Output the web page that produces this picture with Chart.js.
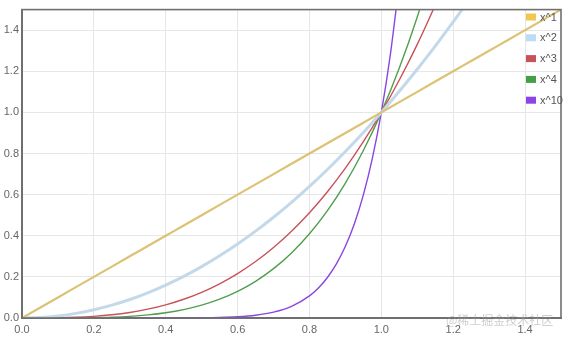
<!DOCTYPE html>
<html>
<head>
<meta charset="utf-8">
<script src="https://cdn.jsdelivr.net/npm/chart.js@4/dist/chart.umd.min.js"></script>
<style>
  html, body { margin: 0; padding: 0; background: #fff; }
  #wrap { position: relative; width: 564px; height: 340px; }
  #wm { position: absolute; left: 446px; top: 311px; font: 12px "Noto Sans CJK SC", sans-serif; color: rgba(160,160,160,0.5); white-space: nowrap; pointer-events: none; }
</style>
</head>
<body>
<div id="wrap">
  <canvas id="c" width="564" height="340"></canvas>
  <div id="wm">@稀土掘金技术社区</div>
</div>
<script>
// Shared x samples (0 .. 1.5)
const xs = [0, 0.05, 0.1, 0.15, 0.2, 0.25, 0.3, 0.35, 0.4, 0.45, 0.5, 0.55, 0.6, 0.65, 0.7, 0.75, 0.8, 0.85, 0.9, 0.95, 1.0, 1.05, 1.1, 1.15, 1.2, 1.25, 1.3, 1.35, 1.4, 1.45, 1.5];
const y1 = [0, 0.05, 0.1, 0.15, 0.2, 0.25, 0.3, 0.35, 0.4, 0.45, 0.5, 0.55, 0.6, 0.65, 0.7, 0.75, 0.8, 0.85, 0.9, 0.95, 1.0, 1.05, 1.1, 1.15, 1.2, 1.25, 1.3, 1.35, 1.4, 1.45, 1.5];
const y2 = [0, 0.0025, 0.01, 0.0225, 0.04, 0.0625, 0.09, 0.1225, 0.16, 0.2025, 0.25, 0.3025, 0.36, 0.4225, 0.49, 0.5625, 0.64, 0.7225, 0.81, 0.9025, 1.0, 1.1025, 1.21, 1.3225, 1.44, 1.5625];
const y3 = [0, 0.000125, 0.001, 0.003375, 0.008, 0.015625, 0.027, 0.042875, 0.064, 0.091125, 0.125, 0.166375, 0.216, 0.274625, 0.343, 0.421875, 0.512, 0.614125, 0.729, 0.857375, 1.0, 1.157625, 1.331, 1.520875];
const y4 = [0, 0.000006, 0.0001, 0.000506, 0.0016, 0.003906, 0.0081, 0.015006, 0.0256, 0.041006, 0.0625, 0.091506, 0.1296, 0.178506, 0.2401, 0.316406, 0.4096, 0.522006, 0.6561, 0.814506, 1.0, 1.215506, 1.4641, 1.749006];
// finer samples for the steep x^10 curve
const xs10 = [0, 0.1, 0.2, 0.3, 0.4, 0.5, 0.55, 0.6, 0.65, 0.7, 0.75, 0.8, 0.825, 0.85, 0.875, 0.9, 0.925, 0.95, 0.975, 1.0, 1.025, 1.05];
const y10 = [0, 0, 0.0000001, 0.0000059, 0.000105, 0.000977, 0.00253, 0.00605, 0.01346, 0.02825, 0.05631, 0.10737, 0.1460, 0.19687, 0.2631, 0.34868, 0.4586, 0.59874, 0.7763, 1.0, 1.2801, 1.62889];
const seriesNames = ['x^1', 'x^2', 'x^3', 'x^4', 'x^10'];
const xTicks = [0, 0.2, 0.4, 0.6, 0.8, 1.0, 1.2, 1.4];
const yTicks = [0, 0.2, 0.4, 0.6, 0.8, 1.0, 1.2, 1.4];

function pts(xa, ya) { return ya.map((v, i) => ({ x: xa[i], y: v })); }

const lineColors = ['#dcc273', '#c3d9ea', '#c9525a', '#4f9f4f', '#8b45e0'];
const boxColors = ['#f1c84e', '#bcdcf6', '#c9525a', '#45a045', '#8b45e6'];
const widths = [2.2, 3, 1.4, 1.4, 1.4];
const dataSets = [pts(xs, y1), pts(xs, y2), pts(xs, y3), pts(xs, y4), pts(xs10, y10)];

const legendPlugin = {
  id: 'customLegend',
  afterDraw(chart) {
    const ctx = chart.ctx;
    const a = chart.chartArea;
    ctx.save();
    ctx.strokeStyle = '#707070';
    ctx.lineWidth = 1.6;
    ctx.strokeRect(a.left, a.top, a.right - a.left, a.bottom - a.top);
    ctx.font = '11px "Liberation Sans", Arial, sans-serif';
    ctx.textBaseline = 'middle';
    ctx.textAlign = 'left';
    chart.data.datasets.forEach((ds, i) => {
      const y = 17 + i * 20.8;
      ctx.fillStyle = ds.backgroundColor;
      ctx.fillRect(526, y - 3.5, 10, 7);
      ctx.fillStyle = '#555';
      ctx.fillText(ds.label, 540, y + 0.5);
    });
    ctx.restore();
  }
};

new Chart(document.getElementById('c'), {
  type: 'scatter',
  data: {
    datasets: seriesNames.map((n, i) => ({
      label: n,
      data: dataSets[i],
      showLine: true,
      borderColor: lineColors[i],
      backgroundColor: boxColors[i],
      borderWidth: widths[i],
      pointRadius: 0,
      cubicInterpolationMode: 'monotone',
      fill: false
    }))
  },
  options: {
    responsive: false,
    animation: false,
    layout: { padding: { top: 5, right: 3, left: 0, bottom: 0 } },
    plugins: { legend: { display: false }, tooltip: { enabled: false } },
    scales: {
      x: {
        type: 'linear', min: 0, max: 1.5,
        afterFit(s) { s.height = 22; },
        afterBuildTicks(s) { s.ticks = xTicks.map(v => ({ value: v })); },
        ticks: { padding: 5, color: '#666', font: { size: 11, family: '"Liberation Sans", Arial, sans-serif' }, maxRotation: 0, callback: v => Number(v).toFixed(1) },
        grid: { color: '#e6e6e6', drawTicks: false },
        border: { color: '#707070', width: 2 }
      },
      y: {
        type: 'linear', min: 0, max: 1.5,
        afterFit(s) { s.width = 22; },
        afterBuildTicks(s) { s.ticks = yTicks.map(v => ({ value: v })); },
        ticks: { padding: 3, color: '#666', font: { size: 11, family: '"Liberation Sans", Arial, sans-serif' }, callback: v => Number(v).toFixed(1) },
        grid: { color: '#e6e6e6', drawTicks: false },
        border: { color: '#707070', width: 2 }
      }
    }
  },
  plugins: [legendPlugin]
});
</script>
</body>
</html>
